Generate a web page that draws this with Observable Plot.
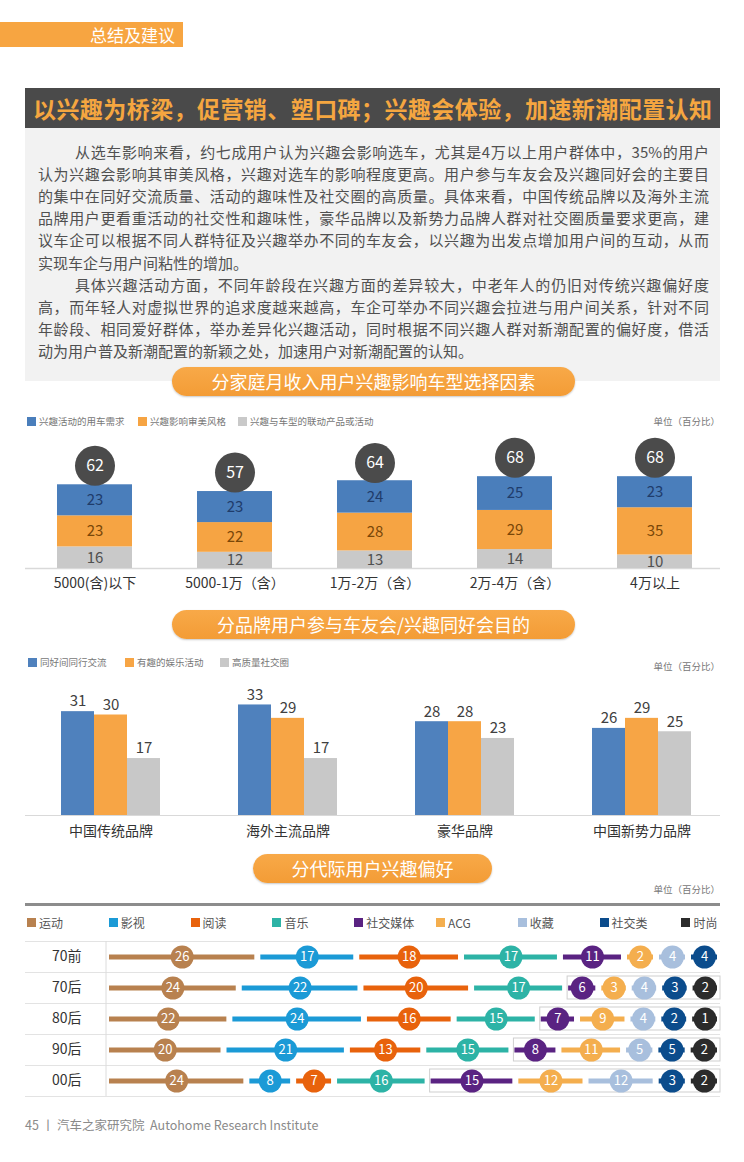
<!DOCTYPE html>
<html>
<head>
<meta charset="utf-8">
<script src="https://cdn.jsdelivr.net/npm/d3@7"></script>
<script src="https://cdn.jsdelivr.net/npm/@observablehq/plot@0.6"></script>
<style>
  html, body { margin: 0; padding: 0; background: #fff; }
  #page { position: relative; width: 744px; height: 1162px; overflow: hidden;
    font-family: "Noto Sans CJK SC", "Noto Sans", sans-serif; }
  .abs { position: absolute; }
  .pill { position: absolute; height: 29px; line-height: 29px; border-radius: 15px; color: #fff;
    font-size: 18px; text-align: center; background: linear-gradient(#F8A948, #F39C36);
    box-shadow: 0 1px 2px rgba(0,0,0,0.22); }
  .line { position: absolute; height: 22px; line-height: 22px; font-size: 15px; color: #505050;
    white-space: nowrap; box-sizing: border-box; }
  .just { text-align: justify; text-align-last: justify; }
  .leg { position: absolute; display: flex; align-items: center; white-space: nowrap; }
  .sw { display: inline-block; flex: none; }
</style>
</head>
<body>
<div id="page"></div>
<script>
// ---------------- DATA ----------------
// Chart 1: 分家庭月收入用户兴趣影响车型选择因素
const incomeCats = ["5000(含)以下", "5000-1万（含）", "1万-2万（含）", "2万-4万（含）", "4万以上"];
const series1 = ["兴趣活动的用车需求", "兴趣影响审美风格", "兴趣与车型的联动产品或活动"];
const needVals = [23, 23, 24, 25, 23];
const styleVals = [23, 22, 28, 29, 35];
const linkVals = [16, 12, 13, 14, 10];
const incomeTotals = [62, 57, 64, 68, 68];

// Chart 2: 分品牌用户参与车友会/兴趣同好会目的
const brands = ["中国传统品牌", "海外主流品牌", "豪华品牌", "中国新势力品牌"];
const series2 = ["同好间同行交流", "有趣的娱乐活动", "高质量社交圈"];
const exchangeVals = [31, 33, 28, 26];
const funVals = [30, 29, 28, 29];
const socialCircleVals = [17, 17, 23, 25];

// Chart 3: 分代际用户兴趣偏好
const gens = ["70前", "70后", "80后", "90后", "00后"];
const interestCats = ["运动", "影视", "阅读", "音乐", "社交媒体", "ACG", "收藏", "社交类", "时尚"];
const sportVals = [26, 24, 22, 20, 24];
const filmVals = [17, 22, 24, 21, 8];
const readVals = [18, 20, 16, 13, 7];
const musicVals = [17, 17, 15, 15, 16];
const socialMediaVals = [11, 6, 7, 8, 15];
const acgVals = [2, 3, 9, 11, 12];
const collectVals = [4, 4, 4, 5, 12];
const socialVals = [4, 3, 2, 5, 3];
const fashionVals = [null, 2, 1, 2, 2];
const virtualCats = ["社交媒体", "ACG", "收藏", "社交类", "时尚"];
const boxedGens = ["70后", "80后", "90后", "00后"];

const unitText = "单位（百分比）";

// ---------------- STYLE ----------------
const FONT = "'Noto Sans CJK SC', 'Noto Sans', sans-serif";
const c1 = ["#4A7EBB", "#F6A443", "#C9C9C9"];
const c1Label = ["#1F3C6B", "#7A4708", "#505050"];
const c2 = ["#4F81BD", "#F7A545", "#C8C8C8"];
const interestColors = ["#B8814F", "#1B9AD6", "#E8620C", "#2DB3A6", "#5A2382", "#F4AE4E", "#A8BFDD", "#0B4C8C", "#2B2B2B"];

const page = document.getElementById("page");
function el(tag, cls, css, html) {
  const e = document.createElement(tag);
  if (cls) e.className = cls;
  Object.assign(e.style, css || {});
  if (html != null) e.innerHTML = html;
  page.appendChild(e);
  return e;
}

// Header
el("div", "abs", {left: "0px", top: "22px", width: "183px", height: "25px", background: "#F7A541",
  color: "#fff", fontSize: "17px", lineHeight: "25px", textAlign: "right", paddingRight: "8px", boxSizing: "border-box"}, "总结及建议");

// Title bar
const tb = el("div", "abs", {left: "25px", top: "88px", width: "695px", height: "40px", background: "#4A4A4A"});
const tt = document.createElement("div");
Object.assign(tt.style, {position: "absolute", left: "8px", width: "679px", top: "0px", height: "40px", lineHeight: "40px",
  color: "#F5A640", fontSize: "23px", fontWeight: "bold", whiteSpace: "nowrap", textAlign: "justify", textAlignLast: "justify"});
tt.textContent = "以兴趣为桥梁，促营销、塑口碑；兴趣会体验，加速新潮配置认知";
tb.appendChild(tt);

// Paragraph box
el("div", "abs", {left: "25px", top: "128px", width: "695px", height: "253px", background: "#F2F2F2"});
const paraLines = [
  ["从选车影响来看，约七成用户认为兴趣会影响选车，尤其是4万以上用户群体中，35%的用户", true, true],
  ["认为兴趣会影响其审美风格，兴趣对选车的影响程度更高。用户参与车友会及兴趣同好会的主要目", false, true],
  ["的集中在同好交流质量、活动的趣味性及社交圈的高质量。具体来看，中国传统品牌以及海外主流", false, true],
  ["品牌用户更看重活动的社交性和趣味性，豪华品牌以及新势力品牌人群对社交圈质量要求更高，建", false, true],
  ["议车企可以根据不同人群特征及兴趣举办不同的车友会，以兴趣为出发点增加用户间的互动，从而", false, true],
  ["实现车企与用户间粘性的增加。", false, false],
  ["具体兴趣活动方面，不同年龄段在兴趣方面的差异较大，中老年人的仍旧对传统兴趣偏好度", true, true],
  ["高，而年轻人对虚拟世界的追求度越来越高，车企可举办不同兴趣会拉进与用户间关系，针对不同", false, true],
  ["年龄段、相同爱好群体，举办差异化兴趣活动，同时根据不同兴趣人群对新潮配置的偏好度，借活", false, true],
  ["动为用户普及新潮配置的新颖之处，加速用户对新潮配置的认知。", false, false]
];
paraLines.forEach(([txt, indent, just], i) => {
  el("div", "line" + (just ? " just" : ""), {left: "38px", width: "671px", top: (141 + i * 22.1) + "px",
    paddingLeft: indent ? "37px" : "0px"}, txt);
});

// Pills
el("div", "pill", {left: "172px", top: "367px", width: "403px"}, "分家庭月收入用户兴趣影响车型选择因素");
el("div", "pill", {left: "172px", top: "610px", width: "403px"}, "分品牌用户参与车友会/兴趣同好会目的");
el("div", "pill", {left: "253px", top: "854px", width: "239px"}, "分代际用户兴趣偏好");

function legend(names, colors, lefts, cy, fs, sw, gap, color) {
  names.forEach((n, i) => {
    const d = el("div", "leg", {left: lefts[i] + "px", top: (cy - 10) + "px", height: "20px", fontSize: fs + "px", color});
    const s = document.createElement("span");
    s.className = "sw";
    Object.assign(s.style, {width: sw + "px", height: sw + "px", background: colors[i], marginRight: gap + "px"});
    d.appendChild(s);
    d.appendChild(document.createTextNode(n));
  });
}
function unit(cy) {
  el("div", "abs", {right: "24px", top: (cy - 8) + "px", height: "16px", lineHeight: "16px", fontSize: "9.5px", color: "#777"}, unitText);
}

legend(series1, c1, [27, 138, 238], 421, 9.5, 9, 3, "#777");
unit(421);
legend(series2, c2, [28, 125, 220], 662, 9.5, 9, 3, "#777");
unit(666);
unit(889);
el("div", "abs", {left: "25px", top: "903px", width: "695px", height: "2.5px", background: "#8C8C8C"});
legend(interestCats, interestColors, interestCats.map((_, i) => 27 + i * 81.8), 922, 12, 9, 3, "#555");

// baseline of chart 2 (continuous across groups)
el("div", "abs", {left: "25px", top: "815px", width: "695px", height: "1.2px", background: "#D9D9D9"});

const baseStyle = {fontFamily: FONT, fontSize: "14px", background: "transparent", color: "#333", overflow: "visible"};

// ---------------- CHART 1 ----------------
const t1 = [];
incomeCats.forEach((c, i) => {
  t1.push({cat: c, series: series1[2], value: linkVals[i]});
  t1.push({cat: c, series: series1[1], value: styleVals[i]});
  t1.push({cat: c, series: series1[0], value: needVals[i]});
});
const tot1 = incomeCats.map((c, i) => ({cat: c, total: incomeTotals[i]}));

const chart1 = Plot.plot({
  width: 744, height: 160, marginLeft: 23, marginRight: 19, marginTop: 0, marginBottom: 27,
  style: baseStyle,
  x: {domain: incomeCats, paddingInner: 0.466, paddingOuter: 0.233, tickSize: 0, tickPadding: 10, label: null},
  y: {domain: [0, 98.5], axis: null},
  color: {domain: [...series1, ...series1.map(s => s + "#")], range: [...c1, ...c1Label]},
  marks: [
    Plot.ruleY([0], {stroke: "#D9D9D9", strokeWidth: 1.5, insetLeft: 2, insetRight: 5}),
    Plot.barY(t1, {x: "cat", y: "value", fill: "series"}),
    Plot.text(t1, Plot.stackY({x: "cat", y: "value", text: "value", fill: d => d.series + "#", fontSize: 15})),
    Plot.dot(tot1, {x: "cat", y: "total", r: 20, fill: "#4B4B4B", dy: -19}),
    Plot.text(tot1, {x: "cat", y: "total", text: "total", fill: "white", fontSize: 16, dy: -19})
  ]
});
el("div", "abs", {left: "0px", top: "435px"}).appendChild(chart1);

// ---------------- CHART 2 ----------------
const t2 = [];
brands.forEach((b, i) => {
  t2.push({brand: b, series: series2[0], value: exchangeVals[i]});
  t2.push({brand: b, series: series2[1], value: funVals[i]});
  t2.push({brand: b, series: series2[2], value: socialCircleVals[i]});
});
const chart2 = Plot.plot({
  width: 744, height: 165, marginLeft: 21, marginRight: 13, marginTop: 0, marginBottom: 30,
  style: baseStyle,
  fx: {domain: brands, paddingInner: 0.43, paddingOuter: 0.215, axis: "bottom", tickSize: 0, tickPadding: 11, label: null},
  x: {domain: series2, padding: 0, axis: null},
  y: {domain: [0, 40.3], axis: null},
  color: {domain: series2, range: c2},
  marks: [
    Plot.barY(t2, {fx: "brand", x: "series", y: "value", fill: "series"}),
    Plot.text(t2, {fx: "brand", x: "series", y: "value", text: "value", dy: -10, fontSize: 15, fill: "#404040"})
  ]
});
el("div", "abs", {left: "0px", top: "680px"}).appendChild(chart2);

// ---------------- CHART 3 ----------------
const catVals = [sportVals, filmVals, readVals, musicVals, socialMediaVals, acgVals, collectVals, socialVals, fashionVals];
const t3 = [];
gens.forEach((g, i) => {
  interestCats.forEach((c, j) => {
    const v = catVals[j][i];
    if (v != null) t3.push({gen: g, cat: c, value: v});
  });
});
const MINW = 5.5; // minimum display width so small circles fit
const wOf = d => Math.max(d.value, MINW);
const boxRows = boxedGens.map(g => {
  const rows = t3.filter(d => d.gen === g);
  const tot = d3.sum(rows, wOf);
  const pre = d3.sum(rows.filter(d => !virtualCats.includes(d.cat)), wOf);
  return {gen: g, start: pre / tot, end: 1};
});
const stackOpts = extra => Plot.stackX({y: "gen", x: wOf, z: "cat", offset: "normalize", ...extra});

const chart3 = Plot.plot({
  width: 744, height: 165, marginLeft: 106, marginRight: 24, marginTop: 6, marginBottom: 4,
  style: baseStyle,
  x: {domain: [0, 1], axis: null},
  y: {domain: gens, padding: 0, tickSize: 0, tickPadding: 25, label: null},
  color: {domain: interestCats, range: interestColors},
  marks: [
    Plot.ruleY(gens, {y: d => d, dy: -15.5, stroke: "#E3E3E3", insetLeft: -81}),
    Plot.ruleY(gens.slice(-1), {y: d => d, dy: 15.5, stroke: "#E3E3E3", insetLeft: -81}),
    Plot.ruleX([0], {stroke: "#DCDCDC", dx: -0.5}),
    Plot.barX(boxRows, {x1: "start", x2: "end", y: "gen", insetTop: 4, insetBottom: 4, insetLeft: 2,
      fill: "none", stroke: "#CFCFCF"}),
    Plot.ruleY(t3, stackOpts({stroke: "cat", strokeWidth: 5, insetLeft: 3, insetRight: 3})),
    Plot.dot(t3, stackOpts({fill: "cat", r: 11.5})),
    Plot.text(t3, stackOpts({text: "value", fill: "white", fontSize: 13}))
  ]
});
el("div", "abs", {left: "0px", top: "935px"}).appendChild(chart3);

// Footer
el("div", "abs", {left: "25px", top: "1116px", height: "18px", lineHeight: "18px", fontSize: "12.5px", color: "#8A8A8A", whiteSpace: "nowrap"},
  "45 丨 汽车之家研究院&nbsp; Autohome Research Institute");
</script>
</body>
</html>
